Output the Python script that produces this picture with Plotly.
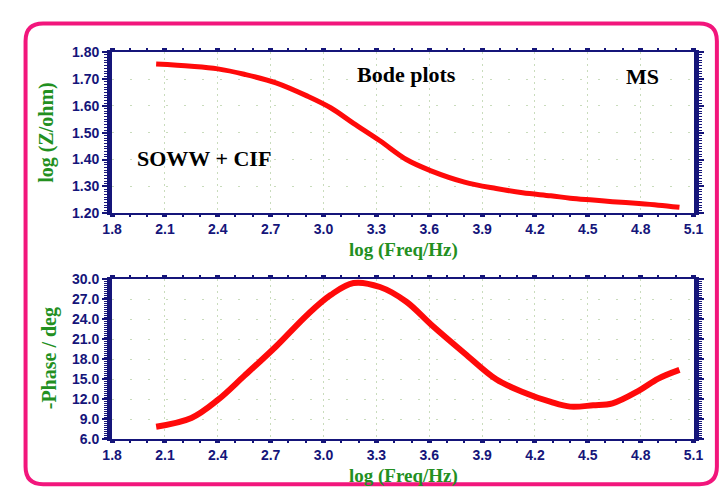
import plotly.graph_objects as go

# ---- data ----
log_freq = [2.05, 2.25, 2.40, 2.55, 2.73, 2.91, 3.04, 3.17, 3.32, 3.47, 3.61,
            3.80, 3.98, 4.13, 4.29, 4.40, 4.53, 4.64, 4.79, 4.90, 5.02]
log_z = [1.756, 1.748, 1.738, 1.718, 1.686, 1.636, 1.593, 1.535, 1.470, 1.400, 1.358,
         1.316, 1.292, 1.276, 1.265, 1.256, 1.249, 1.243, 1.236, 1.230, 1.222]
neg_phase = [7.9, 9.2, 11.9, 15.5, 19.9, 24.7, 27.6, 29.4, 28.8, 26.6, 23.2,
             18.9, 15.0, 13.1, 11.6, 10.9, 11.1, 11.4, 13.3, 15.1, 16.4]

x_ticks = [1.8, 2.1, 2.4, 2.7, 3.0, 3.3, 3.6, 3.9, 4.2, 4.5, 4.8, 5.1]
z_ticks = [1.20, 1.30, 1.40, 1.50, 1.60, 1.70, 1.80]
ph_ticks = [6.0, 9.0, 12.0, 15.0, 18.0, 21.0, 24.0, 27.0, 30.0]

W, H = 723, 498
NAVY = "#15157a"
GREEN = "#23901f"
RED = "#ff0a0a"
PINK = "#f2167c"
GRID = "#c9dcbc"

def px(x):
    return x / W

def py(y):
    return 1 - y / H

fig = go.Figure()
fig.add_trace(go.Scatter(x=log_freq, y=log_z, mode="lines", line=dict(color=RED, width=5, shape="spline"),
                         xaxis="x", yaxis="y", showlegend=False))
fig.add_trace(go.Scatter(x=log_freq, y=neg_phase, mode="lines", line=dict(color=RED, width=6, shape="spline"),
                         xaxis="x2", yaxis="y2", showlegend=False))

tickfont = dict(family="Liberation Sans, Arial", size=14, color=NAVY)

def xaxis(anchor):
    return dict(
        domain=[px(105), px(703)], anchor=anchor, range=[1.8, 5.1],
        tickvals=x_ticks, ticktext=[f"<b>{v:.1f}</b>" for v in x_ticks],
        tickfont=tickfont, showline=True, linecolor=NAVY, linewidth=2, mirror="allticks",
        ticks="outside", ticklen=2, tickwidth=5, tickcolor=NAVY,
        minor=dict(dtick=0.1, tick0=1.8, ticks="outside", ticklen=2, tickwidth=2, tickcolor=NAVY, showgrid=False),
        showgrid=True, gridcolor=GRID, gridwidth=1, griddash="2px,4px", zeroline=False,
    )

def yaxis(anchor, dom, rng, ticks, fmt, minor_dt):
    return dict(
        domain=dom, anchor=anchor, range=rng,
        tickvals=ticks, ticktext=["<b>" + fmt.format(v) + "</b>" for v in ticks],
        tickfont=tickfont, showline=True, linecolor=NAVY, linewidth=5, mirror="allticks",
        ticks="outside", ticklen=5, tickwidth=2, tickcolor=NAVY,
        minor=dict(dtick=minor_dt, ticks="outside", ticklen=3, tickwidth=1, tickcolor=NAVY, showgrid=False),
        showgrid=True, gridcolor=GRID, gridwidth=1, griddash="2px,16px", zeroline=False,
    )

fig.update_layout(
    width=W, height=H,
    margin=dict(l=0, r=0, t=0, b=0),
    paper_bgcolor="white", plot_bgcolor="white",
    xaxis=xaxis("y"),
    yaxis=yaxis("x", [py(212), py(45.7)], [1.2, 1.8], z_ticks, "{:.2f}", 0.01),
    xaxis2=xaxis("y2"),
    yaxis2=yaxis("x2", [py(445.7), py(280)], [6.0, 30.0], ph_ticks, "{:.1f}", 0.3),
)

serif = "Liberation Serif, Times New Roman, serif"
ann = []
ann.append(dict(text="<b>log (Z/ohm)</b>", x=px(38), y=py(128), textangle=-90,
                font=dict(family=serif, size=20, color=GREEN)))
ann.append(dict(text="<b>log (Freq/Hz)</b>", x=px(405), y=py(250),
                font=dict(family=serif, size=19, color=GREEN)))
ann.append(dict(text="<b>-Phase / deg</b>", x=px(40), y=py(362), textangle=-90,
                font=dict(family=serif, size=20, color=GREEN)))
ann.append(dict(text="<b>log (Freq/Hz)</b>", x=px(405), y=py(484),
                font=dict(family=serif, size=19, color=GREEN)))
ann.append(dict(text="<b>Bode plots</b>", x=px(408), y=py(69),
                font=dict(family=serif, size=22, color="black")))
ann.append(dict(text="<b>MS</b>", x=px(651), y=py(71),
                font=dict(family=serif, size=22, color="black")))
ann.append(dict(text="<b>SOWW + CIF</b>", x=px(200), y=py(155),
                font=dict(family=serif, size=22, color="black")))
for a in ann:
    a.update(xref="paper", yref="paper", showarrow=False, xanchor="center", yanchor="middle")
fig.update_layout(annotations=ann)

# rounded pink frame (right side runs off the page as in the reference)
x0, y0, x1, y1, r = 16, 16, 727, 492, 18
path = (f"M {px(x0+r)},{py(y0)} L {px(x1-r)},{py(y0)} Q {px(x1)},{py(y0)} {px(x1)},{py(y0+r)} "
        f"L {px(x1)},{py(y1-r)} Q {px(x1)},{py(y1)} {px(x1-r)},{py(y1)} "
        f"L {px(x0+r)},{py(y1)} Q {px(x0)},{py(y1)} {px(x0)},{py(y1-r)} "
        f"L {px(x0)},{py(y0+r)} Q {px(x0)},{py(y0)} {px(x0+r)},{py(y0)} Z")
fig.add_shape(type="path", path=path, xref="paper", yref="paper",
              line=dict(color=PINK, width=4), layer="below")

fig.write_html("out.html")
